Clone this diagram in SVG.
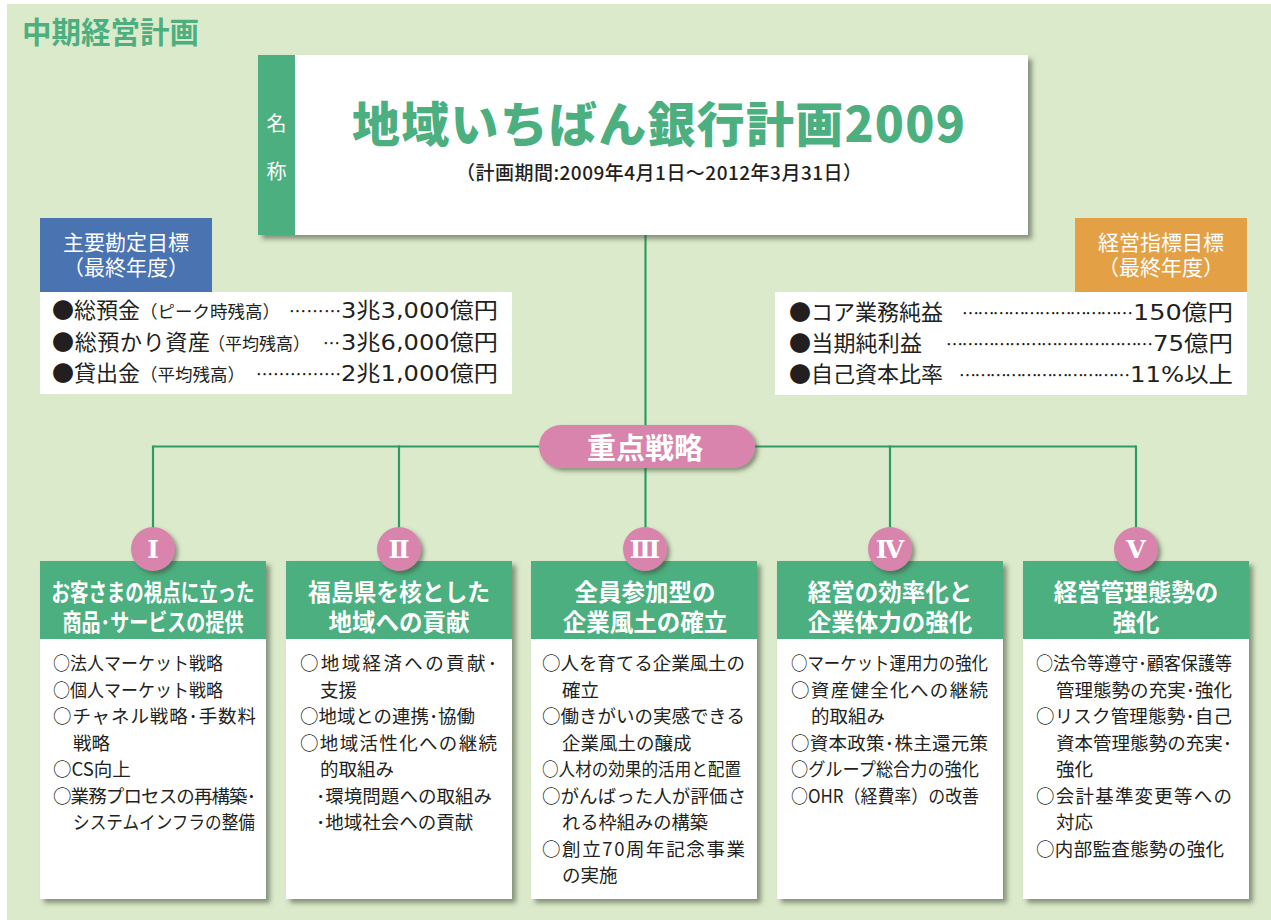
<svg xmlns="http://www.w3.org/2000/svg" width="1271" height="920" viewBox="0 0 1271 920">
<defs>
<filter id="sh" x="-10%" y="-10%" width="130%" height="130%">
<feDropShadow dx="4" dy="4" stdDeviation="2.5" flood-color="#3d4a35" flood-opacity="0.55"/>
</filter>
<filter id="shs" x="-30%" y="-30%" width="170%" height="170%">
<feDropShadow dx="3" dy="3" stdDeviation="2" flood-color="#3d4a35" flood-opacity="0.55"/>
</filter>
<style>
text{font-family:"Noto Sans CJK JP","Noto Sans CJK SC",sans-serif;}
.gr{fill:#4caf80;}
.wt{fill:#ffffff;}
.b{font-weight:700;}
.body{font-size:18.5px;fill:#231f20;}
.hd{font-size:23.5px;font-weight:700;fill:#ffffff;text-anchor:middle;}
.lb{font-size:22px;fill:#231f20;}
.val{font-family:"DejaVu Sans","Noto Sans CJK JP",sans-serif;font-size:22px;fill:#231f20;}
.pr{font-size:17.5px;fill:#231f20;}
.ld{font-size:17px;fill:#231f20;}
.tg{font-size:21px;fill:#ffffff;text-anchor:middle;}
.conn{stroke:#2f9b63;stroke-width:2.2;fill:none;}
.circ{fill:#d984ad;}
.rn{font-family:"DejaVu Serif","Liberation Serif","Noto Sans CJK JP",serif;font-size:25px;font-weight:700;fill:#ffffff;text-anchor:middle;}
</style>
</defs>
<rect x="7" y="4" width="1264" height="916" fill="#dbeacb"/>
<g id="page-title"><text x="22" y="43" class="gr b" font-size="29.5">中期経営計画</text></g>

<g id="connectors">
<line class="conn" x1="645.5" y1="235" x2="645.5" y2="530"/>
<line class="conn" x1="153" y1="446.5" x2="1136" y2="446.5"/>
<line class="conn" x1="153" y1="445.5" x2="153" y2="530"/>
<line class="conn" x1="399" y1="445.5" x2="399" y2="530"/>
<line class="conn" x1="890" y1="445.5" x2="890" y2="530"/>
<line class="conn" x1="1136" y1="445.5" x2="1136" y2="530"/>
</g>

<g id="plan-name">
<rect x="258" y="55" width="770" height="180" fill="#ffffff" filter="url(#sh)"/>
<rect x="258" y="55" width="37" height="180" class="gr"/>
<text x="276.5" y="131" class="wt" font-size="20" text-anchor="middle">名</text>
<text x="276.5" y="179" class="wt" font-size="20" text-anchor="middle">称</text>
<text x="352" y="142" class="gr" font-size="48" font-weight="900" textLength="613" lengthAdjust="spacing">地域いちばん銀行計画2009</text>
<text x="456" y="180" font-size="19" font-weight="500" fill="#231f20" textLength="406" lengthAdjust="spacing">（計画期間:2009年4月1日～2012年3月31日）</text>
</g>

<g id="account-targets">
<rect x="40" y="218" width="172" height="74" fill="#4a73b2"/>
<text x="126" y="250" class="tg">主要勘定目標</text>
<text x="126" y="275" class="tg">（最終年度）</text>
<rect x="40" y="292" width="472" height="102" fill="#ffffff"/>
<text x="52" y="318" class="lb">●総預金</text>
<text x="140" y="318" class="pr" textLength="140" lengthAdjust="spacingAndGlyphs">（ピーク時残高）</text>
<text x="289" y="318" class="ld" textLength="52" lengthAdjust="spacing">………</text>
<text x="341" y="318" class="val" textLength="157" lengthAdjust="spacingAndGlyphs">3兆3,000億円</text>
<text x="52" y="350" class="lb" textLength="158" lengthAdjust="spacing">●総預かり資産</text>
<text x="208" y="350" class="pr" textLength="102" lengthAdjust="spacingAndGlyphs">（平均残高）</text>
<text x="323" y="350" class="ld" textLength="18" lengthAdjust="spacing">…</text>
<text x="341" y="350" class="val" textLength="157" lengthAdjust="spacingAndGlyphs">3兆6,000億円</text>
<text x="52" y="381" class="lb">●貸出金</text>
<text x="140" y="381" class="pr" textLength="105" lengthAdjust="spacingAndGlyphs">（平均残高）</text>
<text x="256" y="381" class="ld" textLength="85" lengthAdjust="spacing">……………</text>
<text x="341" y="381" class="val" textLength="157" lengthAdjust="spacingAndGlyphs">2兆1,000億円</text>
</g>

<g id="management-targets">
<rect x="1075" y="218" width="172" height="74" fill="#e3a045"/>
<text x="1161" y="250" class="tg">経営指標目標</text>
<text x="1161" y="275" class="tg">（最終年度）</text>
<rect x="775" y="292" width="472" height="103" fill="#ffffff"/>
<text x="789" y="320" class="lb" textLength="154" lengthAdjust="spacing">●コア業務純益</text>
<text x="962" y="320" class="ld" textLength="171" lengthAdjust="spacing">……………………………</text>
<text x="1133" y="320" class="val" textLength="100" lengthAdjust="spacingAndGlyphs">150億円</text>
<text x="789" y="351" class="lb" textLength="133" lengthAdjust="spacing">●当期純利益</text>
<text x="946" y="351" class="ld" textLength="207" lengthAdjust="spacing">…………………………………</text>
<text x="1153" y="351" class="val" textLength="80" lengthAdjust="spacingAndGlyphs">75億円</text>
<text x="789" y="382" class="lb" textLength="154" lengthAdjust="spacing">●自己資本比率</text>
<text x="959" y="382" class="ld" textLength="171" lengthAdjust="spacing">……………………………</text>
<text x="1130" y="382" class="val" textLength="103" lengthAdjust="spacingAndGlyphs">11%以上</text>
</g>

<g id="key-strategy">
<rect x="539" y="425" width="216" height="43" rx="21.5" ry="21.5" class="circ" filter="url(#shs)"/>
<text x="645" y="459" class="b wt" font-size="29" text-anchor="middle">重点戦略</text>
</g>

<g id="strategy-1">
<g filter="url(#sh)">
<rect x="40" y="561" width="226" height="78" class="gr"/>
<rect x="40" y="639" width="226" height="260" fill="#ffffff"/>
</g>
<circle cx="153" cy="549" r="22" class="circ" filter="url(#shs)"/>
<text x="153" y="558" class="rn">Ⅰ</text>
<text x="153" y="601" class="hd" textLength="203" lengthAdjust="spacingAndGlyphs">お客さまの視点に立った</text>
<text x="153" y="631" class="hd" textLength="181" lengthAdjust="spacingAndGlyphs">商品･サービスの提供</text>
<text x="53" y="670" class="body" textLength="170" lengthAdjust="spacingAndGlyphs">○法人マーケット戦略</text>
<text x="53" y="696.5" class="body" textLength="170" lengthAdjust="spacingAndGlyphs">○個人マーケット戦略</text>
<text x="53" y="723" class="body" textLength="203" lengthAdjust="spacing">○チャネル戦略･手数料</text>
<text x="73" y="749.5" class="body">戦略</text>
<text x="53" y="776" class="body">○CS向上</text>
<text x="53" y="802.5" class="body" textLength="203" lengthAdjust="spacing">○業務プロセスの再構築･</text>
<text x="73" y="829" class="body" textLength="182" lengthAdjust="spacingAndGlyphs">システムインフラの整備</text>
</g>

<g id="strategy-2">
<g filter="url(#sh)">
<rect x="286" y="561" width="226" height="78" class="gr"/>
<rect x="286" y="639" width="226" height="260" fill="#ffffff"/>
</g>
<circle cx="399" cy="549" r="22" class="circ" filter="url(#shs)"/>
<text x="399" y="558" class="rn">Ⅱ</text>
<text x="399" y="601" class="hd" textLength="182" lengthAdjust="spacingAndGlyphs">福島県を核とした</text>
<text x="399" y="631" class="hd">地域への貢献</text>
<text x="300" y="670" class="body" textLength="197" lengthAdjust="spacing">○地域経済への貢献･</text>
<text x="320" y="696.5" class="body">支援</text>
<text x="300" y="723" class="body" textLength="175" lengthAdjust="spacingAndGlyphs">○地域との連携･協働</text>
<text x="300" y="749.5" class="body" textLength="197" lengthAdjust="spacing">○地域活性化への継続</text>
<text x="320" y="776" class="body">的取組み</text>
<text x="316" y="802.5" class="body" textLength="176" lengthAdjust="spacing">･環境問題への取組み</text>
<text x="316" y="829" class="body">･地域社会への貢献</text>
</g>

<g id="strategy-3">
<g filter="url(#sh)">
<rect x="531" y="561" width="226" height="78" class="gr"/>
<rect x="531" y="639" width="226" height="260" fill="#ffffff"/>
</g>
<circle cx="645" cy="549" r="22" class="circ" filter="url(#shs)"/>
<text x="645" y="558" class="rn">Ⅲ</text>
<text x="645" y="601" class="hd">全員参加型の</text>
<text x="645" y="631" class="hd">企業風土の確立</text>
<text x="542" y="670" class="body" textLength="203" lengthAdjust="spacing">○人を育てる企業風土の</text>
<text x="562" y="696.5" class="body">確立</text>
<text x="542" y="723" class="body" textLength="203" lengthAdjust="spacing">○働きがいの実感できる</text>
<text x="562" y="749.5" class="body">企業風土の醸成</text>
<text x="542" y="776" class="body" textLength="199" lengthAdjust="spacingAndGlyphs">○人材の効果的活用と配置</text>
<text x="542" y="802.5" class="body" textLength="204" lengthAdjust="spacing">○がんばった人が評価さ</text>
<text x="562" y="829" class="body" textLength="146" lengthAdjust="spacingAndGlyphs">れる枠組みの構築</text>
<text x="542" y="855.5" class="body" textLength="203" lengthAdjust="spacing">○創立70周年記念事業</text>
<text x="562" y="882" class="body">の実施</text>
</g>

<g id="strategy-4">
<g filter="url(#sh)">
<rect x="777" y="561" width="226" height="78" class="gr"/>
<rect x="777" y="639" width="226" height="260" fill="#ffffff"/>
</g>
<circle cx="890" cy="549" r="22" class="circ" filter="url(#shs)"/>
<text x="890" y="558" class="rn">Ⅳ</text>
<text x="890" y="601" class="hd">経営の効率化と</text>
<text x="890" y="631" class="hd">企業体力の強化</text>
<text x="791" y="670" class="body" textLength="197" lengthAdjust="spacingAndGlyphs">○マーケット運用力の強化</text>
<text x="791" y="696.5" class="body" textLength="197" lengthAdjust="spacing">○資産健全化への継続</text>
<text x="811" y="723" class="body">的取組み</text>
<text x="791" y="749.5" class="body" textLength="197" lengthAdjust="spacing">○資本政策･株主還元策</text>
<text x="791" y="776" class="body" textLength="188" lengthAdjust="spacingAndGlyphs">○グループ総合力の強化</text>
<text x="791" y="802.5" class="body" textLength="188" lengthAdjust="spacingAndGlyphs">○OHR（経費率）の改善</text>
</g>

<g id="strategy-5">
<g filter="url(#sh)">
<rect x="1023" y="561" width="226" height="78" class="gr"/>
<rect x="1023" y="639" width="226" height="260" fill="#ffffff"/>
</g>
<circle cx="1136" cy="549" r="22" class="circ" filter="url(#shs)"/>
<text x="1136" y="558" class="rn">Ⅴ</text>
<text x="1136" y="601" class="hd">経営管理態勢の</text>
<text x="1136" y="631" class="hd">強化</text>
<text x="1036" y="670" class="body" textLength="196" lengthAdjust="spacingAndGlyphs">○法令等遵守･顧客保護等</text>
<text x="1056" y="696.5" class="body" textLength="176" lengthAdjust="spacing">管理態勢の充実･強化</text>
<text x="1036" y="723" class="body" textLength="196" lengthAdjust="spacing">○リスク管理態勢･自己</text>
<text x="1056" y="749.5" class="body" textLength="176" lengthAdjust="spacing">資本管理態勢の充実･</text>
<text x="1056" y="776" class="body">強化</text>
<text x="1036" y="802.5" class="body" textLength="196" lengthAdjust="spacing">○会計基準変更等への</text>
<text x="1056" y="829" class="body">対応</text>
<text x="1036" y="855.5" class="body" textLength="188" lengthAdjust="spacing">○内部監査態勢の強化</text>
</g>
</svg>
